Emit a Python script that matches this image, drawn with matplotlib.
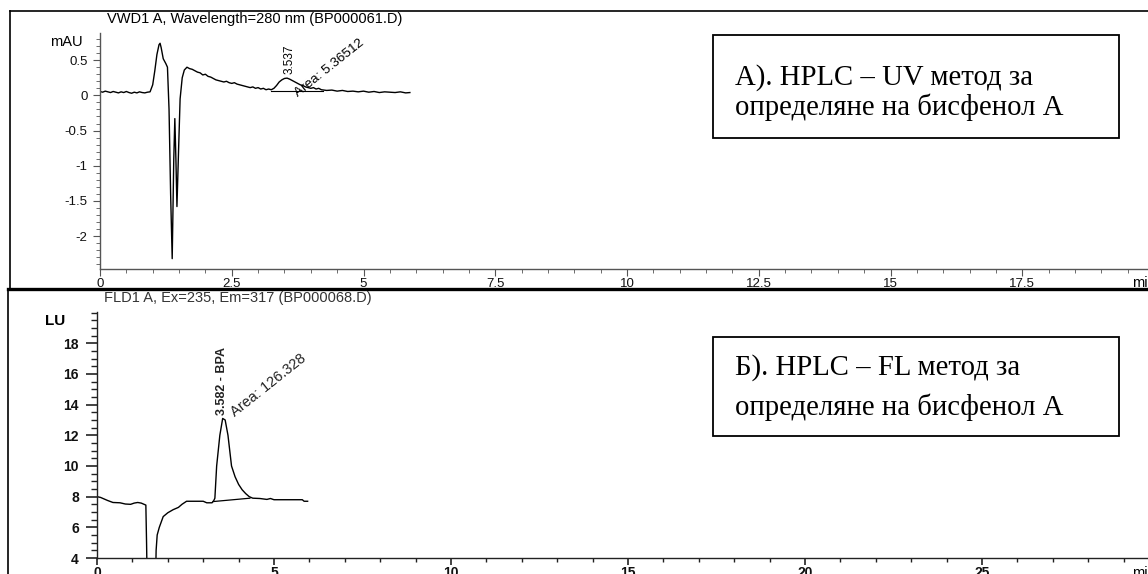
import matplotlib
matplotlib.use("Agg")
import matplotlib.pyplot as plt
from matplotlib.ticker import MultipleLocator, FuncFormatter
from matplotlib.patches import Rectangle

plt.rcParams['axes.unicode_minus'] = False
plt.rcParams['font.family'] = ['Liberation Sans', 'DejaVu Sans']

# ---------------- data ----------------
uv_time = [0.00, 0.05, 0.10, 0.15, 0.20, 0.25, 0.30, 0.35, 0.40, 0.45, 0.50, 0.55, 0.60, 0.65,
           0.70, 0.75, 0.80, 0.85, 0.90, 0.95, 1.00, 1.04, 1.08, 1.12, 1.14, 1.16, 1.20, 1.25,
           1.28, 1.31, 1.34, 1.37, 1.40, 1.42, 1.44, 1.46, 1.49, 1.52, 1.56, 1.60, 1.65, 1.70,
           1.75, 1.80, 1.85, 1.90, 1.95, 2.00, 2.05, 2.10, 2.15, 2.20, 2.25, 2.30, 2.35, 2.40,
           2.45, 2.50, 2.55, 2.60, 2.65, 2.70, 2.75, 2.80, 2.85, 2.90, 2.95, 3.00, 3.05, 3.10,
           3.15, 3.20, 3.25, 3.30, 3.35, 3.40, 3.45, 3.50, 3.55, 3.60, 3.65, 3.70, 3.75, 3.80,
           3.85, 3.90, 3.95, 4.00, 4.05, 4.10, 4.15, 4.20, 4.30, 4.40, 4.50, 4.60, 4.70, 4.80,
           4.90, 5.00, 5.10, 5.20, 5.30, 5.40, 5.50, 5.60, 5.70, 5.80, 5.88]
uv_mau = [0.055, 0.045, 0.060, 0.050, 0.040, 0.055, 0.045, 0.035, 0.050, 0.040, 0.055, 0.040,
          0.030, 0.045, 0.035, 0.050, 0.040, 0.035, 0.045, 0.050, 0.150, 0.350, 0.580, 0.720,
          0.740, 0.680, 0.520, 0.450, 0.400, -0.200, -1.400, -2.320, -0.900, -0.330, -0.900,
          -1.580, -0.800, -0.050, 0.250, 0.360, 0.400, 0.380, 0.370, 0.350, 0.330, 0.320, 0.290,
          0.300, 0.270, 0.260, 0.240, 0.220, 0.210, 0.200, 0.190, 0.200, 0.180, 0.170, 0.180,
          0.160, 0.150, 0.140, 0.130, 0.120, 0.110, 0.120, 0.100, 0.110, 0.090, 0.100, 0.080,
          0.090, 0.080, 0.100, 0.140, 0.190, 0.220, 0.240, 0.245, 0.230, 0.210, 0.190, 0.170,
          0.150, 0.140, 0.120, 0.110, 0.100, 0.110, 0.090, 0.100, 0.080, 0.070, 0.075, 0.060,
          0.070, 0.055, 0.060, 0.050, 0.060, 0.045, 0.055, 0.040, 0.050, 0.045, 0.040, 0.050,
          0.035, 0.040]
uv_base_time = [3.24, 4.23]
uv_base_mau = [0.068, 0.068]
uv_peak_rt = 3.537
uv_peak_label = "3.537"
uv_area_label = "Area: 5.36512"

fl_time = [0.00, 0.10, 0.20, 0.30, 0.45, 0.65, 0.80, 0.95, 1.05, 1.15, 1.25, 1.33, 1.38, 1.40,
           1.42, 1.65, 1.67, 1.70, 1.76, 1.87, 2.00, 2.15, 2.30, 2.40, 2.53, 2.80, 3.00, 3.10,
           3.25, 3.30, 3.33, 3.38, 3.47, 3.55, 3.62, 3.70, 3.75, 3.80, 3.90, 4.00, 4.10, 4.20,
           4.30, 4.40, 4.60, 4.80, 4.90, 5.00, 5.20, 5.50, 5.80, 5.85, 5.95]
fl_lu = [8.00, 7.95, 7.85, 7.75, 7.62, 7.60, 7.52, 7.50, 7.58, 7.62, 7.58, 7.50, 7.45, 5.00,
         2.00, 2.00, 4.50, 5.50, 6.00, 6.70, 6.95, 7.15, 7.30, 7.50, 7.70, 7.70, 7.70, 7.60,
         7.60, 7.75, 7.90, 10.00, 12.00, 13.10, 13.00, 12.00, 11.00, 10.00, 9.30, 8.80, 8.45,
         8.20, 8.00, 7.90, 7.88, 7.82, 7.88, 7.80, 7.80, 7.80, 7.80, 7.70, 7.70]
fl_base_time = [3.28, 4.32]
fl_base_lu = [7.68, 7.90]
fl_peak_rt = 3.52
fl_peak_label = "3.582 - BPA"
fl_area_label = "Area: 126.328"

uv_xticks = [0, 2.5, 5, 7.5, 10, 12.5, 15, 17.5]
uv_yticks = [-2, -1.5, -1, -0.5, 0, 0.5]
fl_xticks = [0, 5, 10, 15, 20, 25]
fl_yticks = [4, 6, 8, 10, 12, 14, 16, 18]

uv_title = "VWD1 A, Wavelength=280 nm (BP000061.D)"
fl_title = "FLD1 A, Ex=235, Em=317 (BP000068.D)"
box_a_lines = ["А). HPLC – UV метод за", "определяне на бисфенол А"]
box_b_lines = ["Б). HPLC – FL метод за", "определяне на бисфенол А"]

# ---------------- figure ----------------
W, H = 1148, 574
fig = plt.figure(figsize=(W / 100, H / 100), dpi=100)
fig.patch.set_facecolor('white')

def px_axes(x0, y0, x1, y1, **kw):
    return fig.add_axes([x0 / W, 1 - y1 / H, (x1 - x0) / W, (y1 - y0) / H], **kw)

# background axes for frames and boxes (pixel coordinates)
bg = fig.add_axes([0, 0, 1, 1], zorder=0)
bg.set_xlim(0, W)
bg.set_ylim(H, 0)
bg.axis('off')
bg.plot([10, W], [11, 11], color='black', lw=1.2)
bg.plot([10, 10], [11, 288], color='black', lw=1.2)
bg.plot([8, W], [288.8, 288.8], color='black', lw=2.4)
bg.plot([8, 8], [289, H], color='black', lw=1.2)
serif = ['Liberation Serif', 'DejaVu Serif']
for (x0, y0, x1, y1), lines, bases in [((713, 35, 1119, 138), box_a_lines, (85, 115)),
                                       ((713, 337, 1119, 436), box_b_lines, (375, 415))]:
    bg.add_patch(Rectangle((x0, y0), x1 - x0, y1 - y0, fill=False, ec='black', lw=1.3))
    for txt, yb in zip(lines, bases):
        bg.text(735, yb, txt, family=serif, fontsize=20.7, va='baseline', ha='left')

def style(ax, col):
    for s in ['top', 'right']:
        ax.spines[s].set_visible(False)
    for s in ['left', 'bottom']:
        ax.spines[s].set_color(col)
        ax.spines[s].set_linewidth(1.0)
    ax.patch.set_alpha(0)
    ax.tick_params(which='both', direction='out', colors=col, labelcolor='#111111')

fmt = FuncFormatter(lambda v, p: ('%g' % v))

# ---- top panel (UV) ----
x_max_uv = (W - 100) / 52.7
ax1 = px_axes(100, 33, W, 268.5, zorder=2)
ax1.plot(uv_time, uv_mau, color='black', lw=1.0)
ax1.plot(uv_base_time, uv_base_mau, color='black', lw=0.8)
ax1.set_xlim(0, x_max_uv)
ax1.set_ylim(-2.46, 0.886)
style(ax1, '#555555')
ax1.set_xticks(uv_xticks)
ax1.set_yticks(uv_yticks)
ax1.xaxis.set_minor_locator(MultipleLocator(0.5))
ax1.yaxis.set_minor_locator(MultipleLocator(0.1))
ax1.xaxis.set_major_formatter(fmt)
ax1.yaxis.set_major_formatter(fmt)
ax1.tick_params(axis='both', which='major', length=5, labelsize=9.5, pad=1.5)
ax1.tick_params(axis='y', which='major', pad=4)
ax1.tick_params(axis='both', which='minor', length=3)
ax1.text(uv_peak_rt + 0.05, 0.31, uv_peak_label, rotation=90, fontsize=8.5, ha='center', va='bottom')
ax1.text(uv_peak_rt + 0.22, -0.03, uv_area_label, rotation=38.6, fontsize=9.7, ha='left',
         va='baseline', rotation_mode='anchor')
bg.text(255, 19, uv_title, fontsize=10.5, ha='center', va='center')
bg.text(66, 42, 'mAU', fontsize=10.5, ha='center', va='center')
bg.text(1148, 283, 'mi', fontsize=10.5, ha='right', va='center')

# ---- bottom panel (FL) ----
x_max_fl = (W - 97) / 35.4
ax2 = px_axes(97, 311.7, W, 558, zorder=2)
ax2.plot(fl_time, fl_lu, color='black', lw=1.0)
ax2.plot(fl_base_time, fl_base_lu, color='black', lw=0.9)
ax2.set_xlim(0, x_max_fl)
ax2.set_ylim(4, 20.06)
style(ax2, '#222222')
ax2.set_xticks(fl_xticks)
ax2.set_yticks(fl_yticks)
ax2.xaxis.set_minor_locator(MultipleLocator(1))
ax2.yaxis.set_minor_locator(MultipleLocator(0.5))
ax2.xaxis.set_major_formatter(fmt)
ax2.yaxis.set_major_formatter(fmt)
ax2.tick_params(axis='y', which='major', length=8, labelsize=10, pad=5, width=1.2)
ax2.tick_params(axis='y', which='minor', length=4, width=1.0)
ax2.tick_params(axis='x', which='major', length=5, labelsize=10, pad=1, width=1.2)
ax2.tick_params(axis='x', which='minor', length=3, width=1.0)
for lab in ax2.get_xticklabels() + ax2.get_yticklabels():
    lab.set_fontweight('bold')
ax2.text(fl_peak_rt, 13.35, fl_peak_label, rotation=90, fontsize=9, ha='center', va='bottom',
         fontweight='bold', color='#222222')
ax2.text(fl_peak_rt + 0.38, 13.2, fl_area_label, rotation=38.5, fontsize=10.5, ha='left',
         va='baseline', rotation_mode='anchor', color='#222222')
bg.text(238, 298, fl_title, fontsize=10.5, ha='center', va='center', color='#333333')
bg.text(55, 321, 'LU', fontsize=11, ha='center', va='center', fontweight='bold')
bg.text(1148, 573, 'mi', fontsize=10.5, ha='right', va='center')

fig.savefig('out.png', dpi=100)
